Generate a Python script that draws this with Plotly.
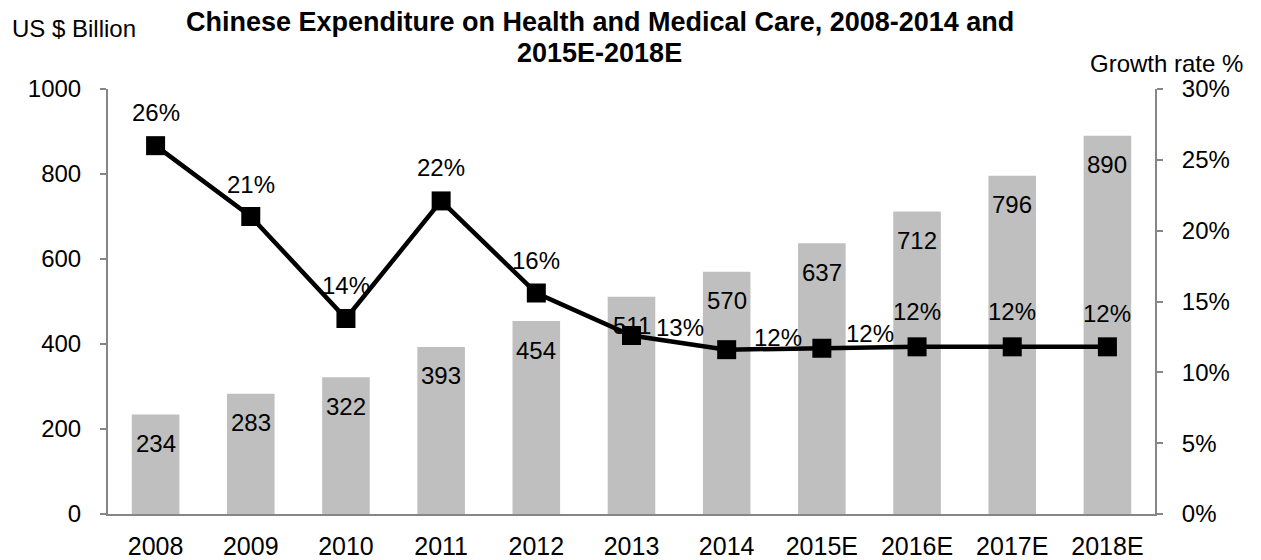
import plotly.graph_objects as go

years = ["2008", "2009", "2010", "2011", "2012", "2013", "2014", "2015E", "2016E", "2017E", "2018E"]
expenditure = [234, 283, 322, 393, 454, 511, 570, 637, 712, 796, 890]
growth = [26.0, 21.0, 13.8, 22.1, 15.6, 12.6, 11.6, 11.7, 11.8, 11.8, 11.8]
growth_labels = ["26%", "21%", "14%", "22%", "16%", "13%", "12%", "12%", "12%", "12%", "12%"]
title_lines = ["Chinese Expenditure on Health and Medical Care, 2008-2014 and", "2015E-2018E"]

# label offsets (pixels) for growth labels
g_xshift = [0, 0, 0, 0, 0, 48, 51, 48, 0, 0, 0]
g_yshift = [33, 32, 33, 33, 33, 8, 12, 15, 35, 35, 33]

FONT = "Liberation Sans, Arial, sans-serif"
AXIS_COLOR = "#868686"

fig = go.Figure()
fig.add_trace(go.Bar(
    x=years, y=expenditure, marker=dict(color="#BFBFBF", line=dict(width=0)),
    width=0.5, yaxis="y", hoverinfo="skip", showlegend=False,
))
fig.add_trace(go.Scatter(
    x=years, y=growth, yaxis="y2", mode="lines+markers",
    line=dict(color="black", width=4.5),
    marker=dict(symbol="square", size=19, color="black"),
    showlegend=False,
))

annotations = []
for i, v in enumerate(expenditure):
    annotations.append(dict(x=i, y=v, xref="x", yref="y", text=str(v), showarrow=False,
                            yshift=-29, font=dict(size=24, color="black", family=FONT)))
for i, (v, t, xs, ys) in enumerate(zip(growth, growth_labels, g_xshift, g_yshift)):
    annotations.append(dict(x=i, y=v, xref="x", yref="y2", text=t, showarrow=False,
                            xshift=xs, yshift=ys, font=dict(size=24, color="black", family=FONT)))
annotations.append(dict(x=-0.0936, y=1.1435, xref="paper", yref="paper", text="US $ Billion",
                        showarrow=False, xanchor="left", yanchor="middle",
                        font=dict(size=24, color="black", family=FONT)))
annotations.append(dict(x=1.086, y=1.061, xref="paper", yref="paper", text="Growth rate %",
                        showarrow=False, xanchor="right", yanchor="middle",
                        font=dict(size=24, color="black", family=FONT)))
for line, ty in zip(title_lines, [1.1576, 1.0847]):
    annotations.append(dict(x=0.4699, y=ty, xref="paper", yref="paper", text="<b>%s</b>" % line,
                            showarrow=False, xanchor="center", yanchor="middle",
                            font=dict(size=27, color="black", family=FONT)))

fig.update_layout(
    width=1261, height=560,
    margin=dict(l=108, r=106, t=89, b=46),
    paper_bgcolor="white", plot_bgcolor="white",
    font=dict(family=FONT, size=24, color="black"),
    xaxis=dict(type="category", range=[-0.5, len(years) - 0.5], autorange=False, automargin=False,
               showline=True, linecolor=AXIS_COLOR, linewidth=2, ticks="",
               showgrid=False, tickfont=dict(size=25), ticklabelstandoff=9, zeroline=False),
    yaxis=dict(range=[0, 1000], dtick=200, showline=True, linecolor=AXIS_COLOR, linewidth=2,
               ticks="outside", ticklen=6, tickcolor=AXIS_COLOR, tickwidth=2, showgrid=False,
               zeroline=False, tickfont=dict(size=24), ticklabelstandoff=14, automargin=False),
    yaxis2=dict(range=[0, 30], dtick=5, ticksuffix="%", overlaying="y", side="right",
                showline=True, linecolor=AXIS_COLOR, linewidth=2, ticks="outside", ticklen=6,
                tickcolor=AXIS_COLOR, tickwidth=2, showgrid=False, zeroline=False,
                tickfont=dict(size=24), ticklabelstandoff=14, automargin=False),
    annotations=annotations,
)

fig.write_html("out.html")
